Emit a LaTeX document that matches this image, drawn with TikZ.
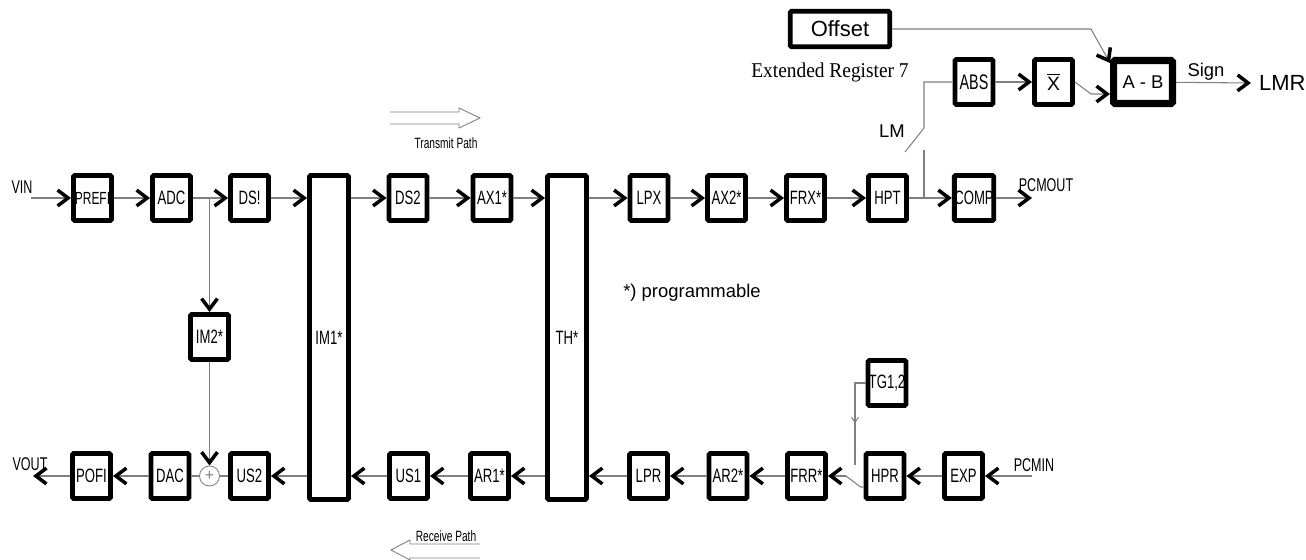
\documentclass[tikz,border=0pt]{standalone}
\usepackage{fontspec}
\setmainfont{Liberation Sans}
\newfontfamily\blocfont{Liberation Sans}[FakeStretch=0.68]
\newfontfamily\seriffont{Liberation Serif}[FakeStretch=0.92]
\usepackage{tikz}
\usetikzlibrary{arrows.meta,positioning,calc,decorations.markings}

\begin{document}
\begin{tikzpicture}[x=0.02cm, y=-0.02cm, decoration={markings, mark=at position 0.55 with {\arrow{Straight Barb[length=3pt,width=4pt]}}}]
%decoration : petite flèche au milieu de la ligne TG
\tikzset{bloc/.style={draw, line width=2.8pt, rounded corners=0.8pt, minimum width=0.76cm, minimum height=0.9cm, inner sep=0pt, font=\blocfont\fontsize{11}{13}\selectfont},
grand/.style={bloc, minimum width=0.78cm, minimum height=6.48cm},
liaison/.style={gray, line width=0.6pt},
fleche/.style={liaison, -{Straight Barb[color=black, line width=2pt, length=6pt, width=9pt]}},
creux/.style={gray, line width=0.5pt},
etiq/.style={font=\blocfont\fontsize{10.5}{12}\selectfont}} %styles des blocs et des liaisons

\useasboundingbox (0,0) rectangle (1306,560);

% chaine d'emission
\node[bloc, font=\blocfont\fontsize{10}{12}\selectfont] (prefi) at (92.5,198) {PREFI};
\node[bloc] (adc) at (171.5,198) {ADC};
\node[bloc] (dsa) at (249.5,198) {DS!};
\node[grand] (im1) at (329,337.5) {IM1*};
\node[bloc] (ds2) at (408,198) {DS2};
\node[bloc] (ax1) at (492,198) {AX1*};
\node[grand] (th) at (567,337.5) {TH*};
\node[bloc] (lpx) at (649,198) {LPX};
\node[bloc] (ax2) at (726.5,198) {AX2*};
\node[bloc] (frx) at (805.5,198) {FRX*};
\node[bloc] (hpt) at (887.5,198) {HPT};
\node[bloc] (comp) at (974,198) {COMP};
\node[bloc] (im2) at (209.5,337) {IM2*};

% chaine de reception
\node[bloc] (pofi) at (91.5,476) {POFI};
\node[bloc] (dac) at (170,476) {DAC};
\node[draw=gray, circle, line width=0.5pt, minimum size=0.4cm, inner sep=0pt, text=gray, font=\fontsize{9}{9}\selectfont] (somme) at (209.5,476) {+};
\node[bloc] (us2) at (249.5,476) {US2};
\node[bloc] (us1) at (408.5,476) {US1};
\node[bloc] (ar1) at (489.5,476) {AR1*};
\node[bloc] (lpr) at (648.5,476) {LPR};
\node[bloc] (ar2) at (728,476) {AR2*};
\node[bloc] (frr) at (806.5,476) {FRR*};
\node[bloc] (hpr) at (885,476) {HPR};
\node[bloc] (exp) at (963.5,476) {EXP};
\node[bloc] (tg) at (887,383) {TG1,2};

% detection LM
\node[bloc, font=\blocfont\fontsize{12}{14}\selectfont] (abs) at (974,82) {ABS};
\node[bloc, font=\fontsize{11}{13}\selectfont] (xb) at (1053.5,82) {$\overline{\mbox{X}}$};
\node[bloc, line width=4pt, minimum width=1.18cm, minimum height=0.86cm, font=\fontsize{10.5}{12}\selectfont] (ab) at (1143,82) {A - B};
\node[bloc, minimum width=1.99cm, minimum height=0.71cm, font=\fontsize{12.5}{14}\selectfont] (offset) at (840,29) {Offset};
\node[font=\seriffont\fontsize{12}{14}\selectfont] (ereg) at (830,72) {Extended Register 7};

% liaisons emission
\coordinate (vin) at (31,198);
\node[etiq] (lvin) at (22,187) {VIN};
\draw[fleche] (vin) -- (prefi);
\draw[fleche] (prefi) -- (adc);
\draw[fleche] (adc) -- (dsa);
\draw[fleche] (dsa) -- (dsa -| im1.west);
\draw[fleche] (im1.east |- ds2) -- (ds2);
\draw[fleche] (ds2) -- (ax1);
\draw[fleche] (ax1) -- (ax1 -| th.west);
\draw[fleche] (th.east |- lpx) -- (lpx);
\draw[fleche] (lpx) -- (ax2);
\draw[fleche] (ax2) -- (frx);
\draw[fleche] (frx) -- (hpt);
\draw[fleche] (hpt) -- (comp);
\coordinate (pcmout) at (1032,198);
\draw[fleche] (comp) -- (pcmout);
\node[etiq] (lpcmout) at (1046,185) {PCMOUT};
\draw[fleche] (im2 |- adc) -- (im2);
\draw[fleche] (im2) -- (somme);

% liaisons reception
\draw[liaison] (us2) -- (somme);
\draw[liaison] (somme) -- (dac);
\draw[fleche] (dac) -- (pofi);
\coordinate (vout) at (33,476);
\draw[fleche] (pofi) -- (vout);
\node[etiq] (lvout) at (30,464) {VOUT};
\draw[fleche] (im1.west |- us2) -- (us2);
\draw[fleche] (us1) -- (us1 -| im1.east);
\draw[fleche] (ar1) -- (us1);
\draw[fleche] (th.west |- ar1) -- (ar1);
\draw[fleche] (lpr) -- (lpr -| th.east);
\draw[fleche] (ar2) -- (lpr);
\draw[fleche] (frr) -- (ar2);
\coordinate (intr) at (846,476);
\draw[liaison] ($(hpr.west)+(0,11)$) -- ++(-3,0) -- (intr);
\draw[fleche] (intr) -- (frr);
\draw[fleche] (exp) -- (hpr);
\coordinate (pcmin) at (1032,476);
\draw[fleche] (pcmin) -- (exp);
\node[etiq] (lpcmin) at (1034,465) {PCMIN};
\coordinate (tgfin) at (855,465);
\draw[liaison, postaction={decorate}] (tg.west) -| (tgfin);

% interrupteur LM
\coordinate (lmbas) at (924,150);
\coordinate (lmlame) at (905,152);
\coordinate (lmpivot) at (924,128);
\draw[liaison] (hpt -| lmbas) -- (lmbas);
\draw[liaison] (lmlame) -- (lmpivot) -- (lmpivot |- abs) -- (abs);
\node[font=\fontsize{10.5}{12}\selectfont] (llm) at (892,131) {LM};
\draw[fleche] (abs) -- (xb);
\coordinate (coudeb) at (1091,94);
\draw[fleche] (xb.east) -- (coudeb) -- (coudeb -| ab.west);
\coordinate (coudea) at (1091,29);
\draw[fleche] (offset.east) -- (coudea) -- ($(ab.north west)+(0,6)$);
\coordinate (lmr) at (1251,83);
\draw[fleche] (ab) -- (lmr);
\node[font=\fontsize{10.5}{12}\selectfont] (lsign) at (1206,72) {Sign};
\node[font=\fontsize{12.5}{14}\selectfont, anchor=west] (llmr) at (1253,83) {LMR};

% sens de transmission
\draw[creux] (390,112) -- (459,112) -- (459,108) -- (480,118) -- (459,128) -- (459,124) -- (390,124);
\node[font=\blocfont\fontsize{8.5}{10}\selectfont] (ltrans) at (446,143) {Transmit Path};
\draw[creux] (480,544) -- (410,544) -- (410,540) -- (391,550) -- (410,560) -- (410,558) -- (480,558);
\node[font=\blocfont\fontsize{8.5}{10}\selectfont] (lrecv) at (446,536) {Receive Path};
\node[font=\fontsize{10.5}{12}\selectfont] (lprog) at (692,293) {*) programmable};
\end{tikzpicture}
\end{document}
